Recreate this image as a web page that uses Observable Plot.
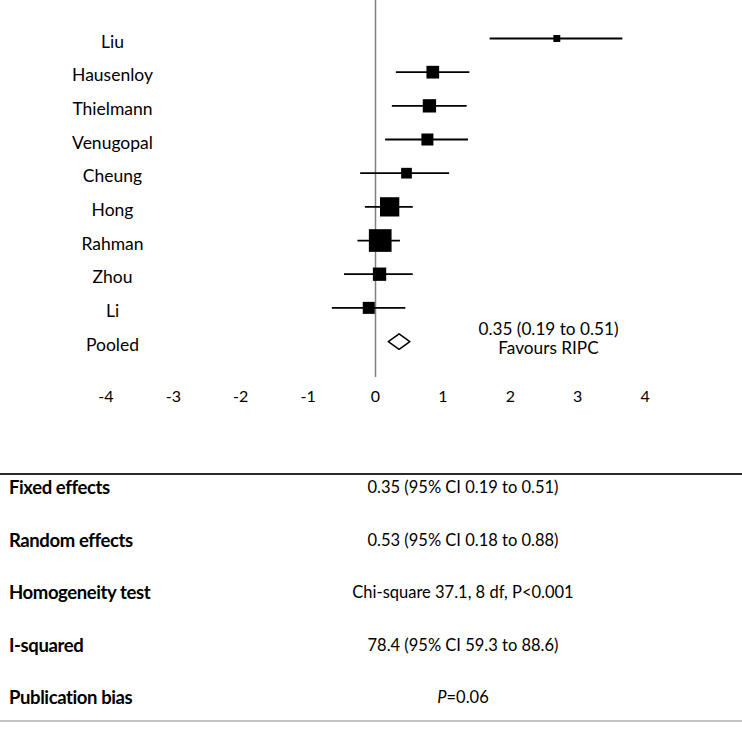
<!DOCTYPE html>
<html>
<head>
<meta charset="utf-8">
<script src="https://cdn.jsdelivr.net/npm/d3@7"></script>
<script src="https://cdn.jsdelivr.net/npm/@observablehq/plot@0.6"></script>
<style>
  html, body { margin: 0; padding: 0; background: #fff; }
  body { width: 742px; font-family: Lato, "Open Sans", sans-serif; color: #000; }
  #table { margin-top: 63px; border-top: 2px solid #2a2a2a; border-bottom: 2px solid #c4c4c4; }
  .row { position: relative; height: 52.5px; }
  .row:last-child { height: 35px; }
  .lab { position: absolute; left: 9px; top: 0; line-height: 24px; font-weight: 700; font-size: 18.5px; letter-spacing: -0.4px; }
  .val { position: absolute; left: 463px; top: 0; line-height: 24px; font-size: 16.5px; transform: translateX(-50%); white-space: nowrap; }
</style>
</head>
<body>
<div id="chart"></div>
<div id="table"></div>
<script>
// ---- data ----
const studies   = ["Liu", "Hausenloy", "Thielmann", "Venugopal", "Cheung", "Hong", "Rahman", "Zhou", "Li"];
const estimates = [2.69, 0.85, 0.80, 0.77, 0.46, 0.21, 0.07, 0.06, -0.10];
const lowerCI   = [1.70, 0.31, 0.25, 0.15, -0.22, -0.15, -0.26, -0.46, -0.64];
const upperCI   = [3.67, 1.40, 1.36, 1.38, 1.10, 0.56, 0.37, 0.56, 0.45];
const weights   = [2.6, 8.7, 9.6, 7.8, 6.2, 20.1, 27.8, 9.6, 7.8];
const pooledLabel = "Pooled";
const pooledEstimate = 0.35;
const pooledLower = 0.19;
const pooledUpper = 0.51;
const pooledNote = "Favours RIPC";
const xTicks = [-4, -3, -2, -1, 0, 1, 2, 3, 4];
const summaryLabels = ["Fixed effects", "Random effects", "Homogeneity test", "I-squared", "Publication bias"];
const summaryValues = ["0.35 (95% CI 0.19 to 0.51)", "0.53 (95% CI 0.18 to 0.88)", "Chi-square 37.1, 8 df, P<0.001", "78.4 (95% CI 59.3 to 88.6)", "<i>P</i>=0.06"];

// ---- derived tables ----
const rows = studies.map((s, i) => ({i, study: s, est: estimates[i], lo: lowerCI[i], hi: upperCI[i], w: weights[i]}));
const pooledIndex = studies.length;
const rowLabels = [...studies, pooledLabel];
const half = 0.23; // diamond half-height in row units
const diamond = [
  {x: pooledLower, y: pooledIndex},
  {x: pooledEstimate, y: pooledIndex - half},
  {x: pooledUpper, y: pooledIndex},
  {x: pooledEstimate, y: pooledIndex + half},
  {x: pooledLower, y: pooledIndex}
];
const fmt = v => v.toFixed(2);
const note = [{x: pooledEstimate, y: pooledIndex,
  text: `${fmt(pooledEstimate)} (${fmt(pooledLower)} to ${fmt(pooledUpper)})\n${pooledNote}`}];

const chart = Plot.plot({
  width: 742,
  height: 410,
  marginLeft: 105.4,
  marginRight: 97.4,
  marginTop: 0,
  marginBottom: 33,
  style: {fontFamily: "Lato, 'Open Sans', sans-serif", background: "#fff", color: "#000"},
  x: {domain: [-4, 4], axis: null},
  y: {domain: [10.068, -1.1286], axis: null},
  r: {type: "sqrt", domain: [0, 27.8], range: [0, 12.8]},
  marks: [
    Plot.ruleX([0], {stroke: "#808080", strokeWidth: 1.5}),
    Plot.ruleY(rows, {y: "i", x1: "lo", x2: "hi", stroke: "#000", strokeWidth: 1.8}),
    Plot.dot(rows, {x: "est", y: "i", r: "w", symbol: "square", fill: "#000", stroke: null}),
    Plot.line(diamond, {x: "x", y: "y", fill: "#fff", stroke: "#000", strokeWidth: 1.5, curve: "linear"}),
    Plot.axisY(d3.range(rowLabels.length), {anchor: "left", tickSize: 0, tickPadding: 0, textAnchor: "middle",
      dx: 6.6, dy: 3.5, fontSize: 17.5, tickFormat: i => rowLabels[i]}),
    Plot.axisX(xTicks, {anchor: "bottom", tickSize: 0, tickPadding: 13.5, fontSize: 16, tickFormat: d => String(d)}),
    Plot.text(note, {x: "x", y: "y", text: "text", dx: 149.4, dy: -3.3, fontSize: 17.2, lineHeight: 1.15, textAnchor: "middle", fill: "#000"})
  ]
});
document.getElementById("chart").appendChild(chart);

const table = document.getElementById("table");
summaryLabels.forEach((l, k) => {
  const r = document.createElement("div");
  r.className = "row";
  r.innerHTML = `<span class="lab">${l}</span><span class="val">${summaryValues[k]}</span>`;
  table.appendChild(r);
});
</script>
</body>
</html>
